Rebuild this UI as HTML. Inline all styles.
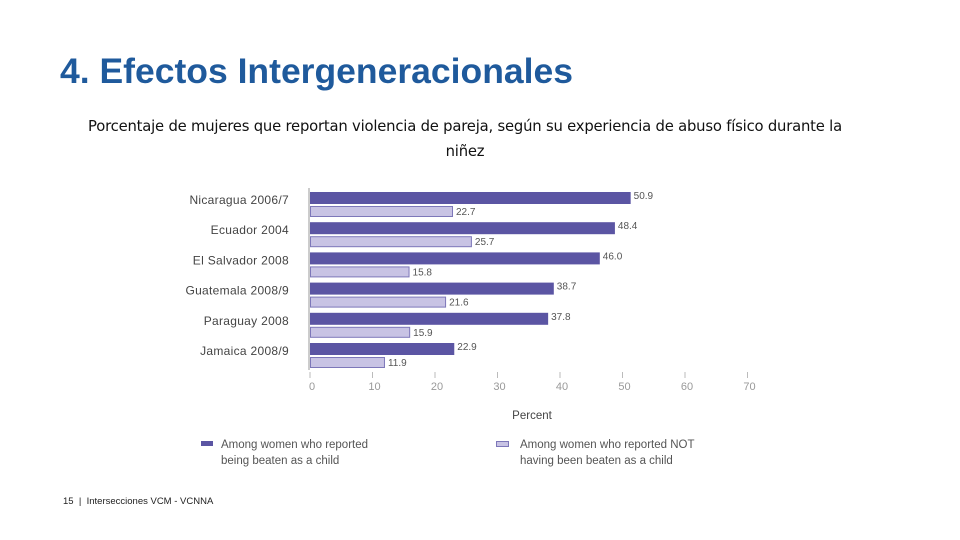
<!DOCTYPE html>
<html><head><meta charset="utf-8"><style>
body{margin:0;width:960px;height:540px;background:#fff;position:relative;overflow:hidden;font-family:"Liberation Sans",sans-serif}
.t{position:absolute}
</style></head><body>
<div class="t" style="left:60px;top:51px;font-size:35.5px;font-weight:bold;color:#1f5a9c">4. Efectos Intergeneracionales</div>
<div class="t" style="left:78px;top:114px;width:774px;text-align:center;font-size:14.8px;line-height:25px;color:#111;font-family:'DejaVu Sans',sans-serif;letter-spacing:-0.2px">Porcentaje de mujeres que reportan violencia de pareja, según su experiencia de abuso físico durante la niñez</div>
<svg id="chart" width="960" height="540" style="position:absolute;left:0;top:0"></svg>
<div class="t" style="left:63px;top:496px;font-size:9.5px;color:#222">15 &nbsp;|&nbsp; Intersecciones VCM - VCNNA</div>
<script>
const categories=["Nicaragua 2006/7","Ecuador 2004","El Salvador 2008","Guatemala 2008/9","Paraguay 2008","Jamaica 2008/9"];
const beaten=[50.9,48.4,46.0,38.7,37.8,22.9];
const notBeaten=[22.7,25.7,15.8,21.6,15.9,11.9];
const ticks=[0,10,20,30,40,50,60,70];
const NS="http://www.w3.org/2000/svg";
const svg=document.getElementById('chart');
const x0=310,k=6.25,y0=192,step=30.2;
const xs=v=>x0+v*k;
const xb=v=>x0+v*6.3;
function mk(t,a,txt){const e=document.createElementNS(NS,t);for(const n in a)e.setAttribute(n,a[n]);if(txt!==undefined)e.textContent=txt;svg.appendChild(e);return e;}
const ax=mk('line',{x1:309,y1:188,x2:309,y2:370,stroke:'#999','stroke-width':1});


categories.forEach((c,i)=>{
  const y=y0+i*step;
  const l=mk('text',{x:289,y:y+12,'text-anchor':'end','font-size':12,fill:'#444','letter-spacing':0.3},c);
  
  
  const b1=mk('rect',{x:x0,y:y,width:xb(beaten[i])-x0,height:12,fill:'#5b55a3'});
  
  
  const v1=mk('text',{x:xb(beaten[i])+3,y:y+7,'font-size':10,fill:'#555'},beaten[i].toFixed(1));
  
  
  const b2=mk('rect',{x:x0+0.5,y:y+14.5,width:xb(notBeaten[i])-x0-1,height:10,fill:'#c8c3e4',stroke:'#7d77b9','stroke-width':1});
  
  
  const v2=mk('text',{x:xb(notBeaten[i])+3,y:y+23,'font-size':10,fill:'#555'},notBeaten[i].toFixed(1));
  
  
});
ticks.forEach(t=>{
  const tl=mk('line',{x1:xs(t),y1:372,x2:xs(t),y2:378,stroke:'#bbb'});
  
  
  const tt=mk('text',{x:xs(t)+2,y:390,'text-anchor':'middle','font-size':11,fill:'#999'},t);
  
  
});
const xt=mk('text',{x:532,y:419,'text-anchor':'middle','font-size':11.5,fill:'#444'},'Percent');


const lg1=mk('rect',{x:201,y:441,width:12,height:5,fill:'#5b55a3'});


const lt1=mk('text',{x:221,y:448,'font-size':11.5,fill:'#555'},'Among women who reported');


const lt1b=mk('text',{x:221,y:464,'font-size':11.5,fill:'#555'},'being beaten as a child');


const lg2=mk('rect',{x:496.5,y:441.5,width:12,height:5,fill:'#c8c3e4',stroke:'#7d77b9'});


const lt2=mk('text',{x:520,y:448,'font-size':11.5,fill:'#555'},'Among women who reported NOT');


const lt2b=mk('text',{x:520,y:464,'font-size':11.5,fill:'#555'},'having been beaten as a child');


</script>
</body></html>
